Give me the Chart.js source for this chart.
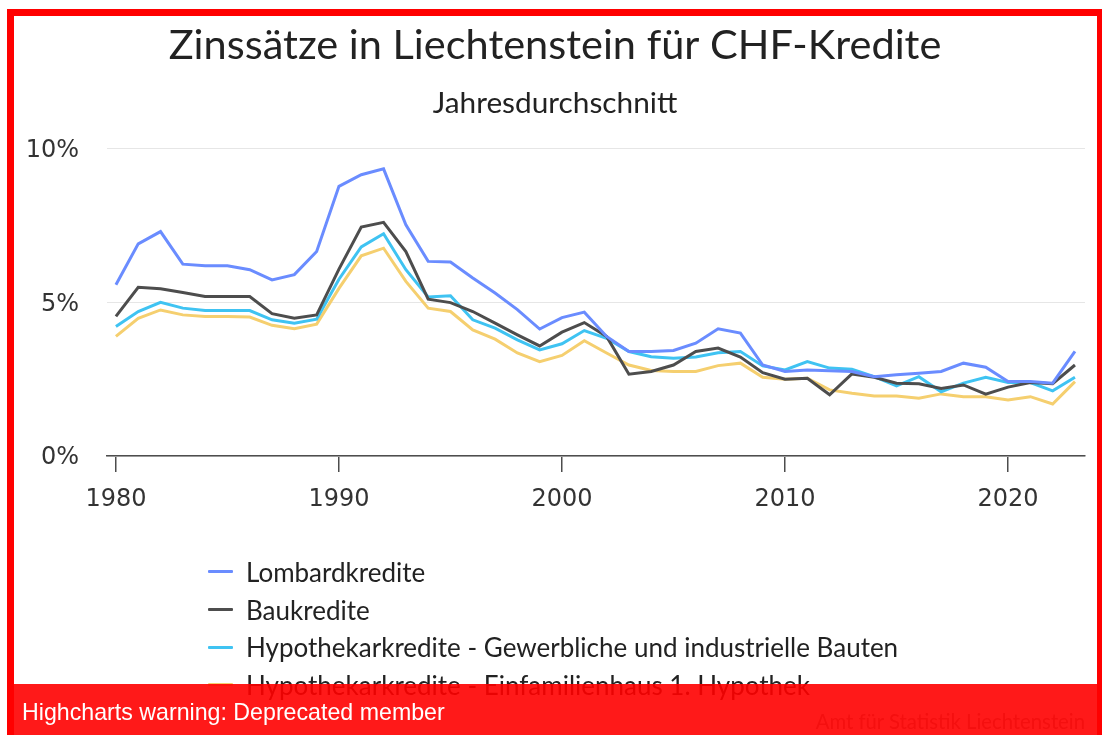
<!DOCTYPE html>
<html>
<head>
<meta charset="utf-8">
<script src="https://cdn.jsdelivr.net/npm/chart.js@4.4.1/dist/chart.umd.min.js"></script>
<style>
  html, body { margin: 0; padding: 0; background: #fff; }
  body { width: 1102px; height: 735px; position: relative; overflow: hidden; }
  #chart { position: absolute; left: 0; top: 0; }
  #legend { position: absolute; left: 208px; top: 553px; font-family: Lato, sans-serif; font-size: 26px; color: #222; }
  #legend .item { height: 37.7px; display: flex; align-items: center; white-space: nowrap; }
  #legend .sym { width: 25px; height: 3px; margin-right: 13px; border-radius: 1px; }
  #credits { position: absolute; right: 17px; top: 709px; font-family: Lato, sans-serif; font-size: 20.3px; color: #999; }
  #warn { position: absolute; left: 14px; top: 684px; width: 1083px; height: 60px; background: rgba(255,0,0,0.9);
          color: #fff; font-family: "Liberation Sans", Arial, sans-serif; font-size: 23.2px; }
  #warn span { position: absolute; left: 8px; top: 15px; }
  #frame { position: absolute; left: 7px; top: 9px; width: 1083px; height: 760px; border: 7px solid #f00; }
</style>
</head>
<body>
<canvas id="chart" width="1102" height="735"></canvas>
<div id="legend"></div>
<div id="credits">Amt für Statistik Liechtenstein</div>
<div id="warn"><span>Highcharts warning: Deprecated member</span></div>
<div id="frame"></div>
<script>
var years = [1980, 1981, 1982, 1983, 1984, 1985, 1986, 1987, 1988, 1989,
             1990, 1991, 1992, 1993, 1994, 1995, 1996, 1997, 1998, 1999,
             2000, 2001, 2002, 2003, 2004, 2005, 2006, 2007, 2008, 2009,
             2010, 2011, 2012, 2013, 2014, 2015, 2016, 2017, 2018, 2019,
             2020, 2021, 2022, 2023];

var lombard = [5.57, 6.9, 7.3, 6.24, 6.19, 6.19, 6.06, 5.73, 5.9, 6.65,
               8.77, 9.15, 9.34, 7.52, 6.33, 6.31, 5.79, 5.3, 4.76, 4.13,
               4.5, 4.68, 3.89, 3.4, 3.4, 3.43, 3.67, 4.14, 4.0, 2.96,
               2.75, 2.8, 2.77, 2.75, 2.58, 2.64, 2.69, 2.75, 3.02, 2.89,
               2.42, 2.42, 2.37, 3.4];

var bau = [4.54, 5.49, 5.44, 5.32, 5.19, 5.19, 5.19, 4.63, 4.48, 4.59,
           6.08, 7.45, 7.6, 6.65, 5.1, 4.99, 4.7, 4.32, 3.94, 3.58,
           4.03, 4.34, 3.89, 2.66, 2.75, 2.96, 3.4, 3.51, 3.22, 2.71,
           2.5, 2.53, 1.99, 2.67, 2.56, 2.37, 2.35, 2.2, 2.31, 2.01,
           2.24, 2.39, 2.35, 2.96];

var gewerbe = [4.21, 4.7, 5.0, 4.81, 4.73, 4.73, 4.73, 4.43, 4.32, 4.45,
               5.75, 6.8, 7.23, 6.06, 5.17, 5.21, 4.43, 4.16, 3.78, 3.45,
               3.65, 4.08, 3.83, 3.4, 3.23, 3.18, 3.22, 3.36, 3.4, 2.93,
               2.8, 3.07, 2.86, 2.82, 2.58, 2.28, 2.58, 2.09, 2.37, 2.56,
               2.39, 2.39, 2.12, 2.56];

var efh = [3.89, 4.48, 4.75, 4.59, 4.54, 4.54, 4.52, 4.25, 4.14, 4.29,
           5.45, 6.51, 6.76, 5.68, 4.81, 4.7, 4.1, 3.8, 3.35, 3.07,
           3.27, 3.75, 3.35, 2.96, 2.78, 2.75, 2.75, 2.94, 3.02, 2.56,
           2.5, 2.53, 2.15, 2.04, 1.95, 1.95, 1.88, 2.02, 1.93, 1.93,
           1.82, 1.93, 1.69, 2.42];

var seriesNames = ["Lombardkredite", "Baukredite",
                   "Hypothekarkredite - Gewerbliche und industrielle Bauten",
                   "Hypothekarkredite - Einfamilienhaus 1. Hypothek"];
var seriesColors = ["#6a8cff", "#4d4d4d", "#3fc3f2", "#f5cf6f"];
var xTicks = [1980, 1990, 2000, 2010, 2020];
var yTicks = [0, 5, 10];

function points(values) {
  return values.map(function(v, i) { return { x: years[i], y: v }; });
}

var allSeries = [lombard, bau, gewerbe, efh];
var datasets = allSeries.map(function(vals, i) {
  return {
    label: seriesNames[i],
    data: points(vals),
    borderColor: seriesColors[i],
    backgroundColor: seriesColors[i],
    borderWidth: 3,
    pointRadius: 0,
    tension: 0,
    fill: false
  };
});

var tickFont = { family: "'DejaVu Sans', sans-serif", size: 24 };

var myChart = new Chart(document.getElementById('chart').getContext('2d'), {
  type: 'line',
  data: { datasets: datasets },
  options: {
    responsive: false,
    animation: false,
    // left padding keeps title centred on the framed box, y axis width makes up the rest
    layout: { padding: { left: 25, right: 17, top: 21, bottom: 219 } },
    plugins: {
      legend: { display: false },
      tooltip: { enabled: false },
      title: {
        display: true,
        text: "Zinssätze in Liechtenstein für CHF-Kredite",
        color: "#222",
        font: { family: "Lato, sans-serif", size: 41.5, weight: 'normal', lineHeight: 1.2 },
        padding: { top: 0, bottom: 15 }
      },
      subtitle: {
        display: true,
        text: "Jahresdurchschnitt",
        color: "#222",
        font: { family: "Lato, sans-serif", size: 29.8, weight: 'normal', lineHeight: 1.2 },
        padding: { top: 0, bottom: 27 }
      }
    },
    scales: {
      x: {
        type: 'linear',
        min: 1979.6,
        max: 2023.45,
        afterBuildTicks: function(scale) {
          scale.ticks = xTicks.map(function(v) { return { value: v }; });
        },
        afterFit: function(scale) { scale.height = 60; },
        grid: { drawOnChartArea: false, drawTicks: true, tickLength: 16, color: '#4d4d4d', lineWidth: 1.5 },
        border: { display: true, color: '#4d4d4d', width: 1.5 },
        ticks: { color: '#333', font: tickFont, padding: 13, maxRotation: 0,
                 callback: function(v) { return String(v); } }
      },
      y: {
        min: 0,
        max: 10,
        afterBuildTicks: function(scale) {
          scale.ticks = yTicks.map(function(v) { return { value: v }; });
        },
        afterFit: function(scale) { scale.width = 82; },
        grid: { color: '#e6e6e6', drawTicks: false, lineWidth: 1 },
        border: { display: false },
        ticks: { color: '#333', font: tickFont, padding: 28, labelOffset: 2,
                 callback: function(v) { return v + '%'; } }
      }
    }
  }
});

// legend in html, vertical like the original
var legendBox = document.getElementById('legend');
myChart.data.datasets.forEach(function(ds) {
  var row = document.createElement('div');
  row.className = 'item';
  row.innerHTML = '<span class="sym" style="background:' + ds.borderColor + '"></span><span>' + ds.label + '</span>';
  legendBox.appendChild(row);
});
</script>
</body>
</html>
